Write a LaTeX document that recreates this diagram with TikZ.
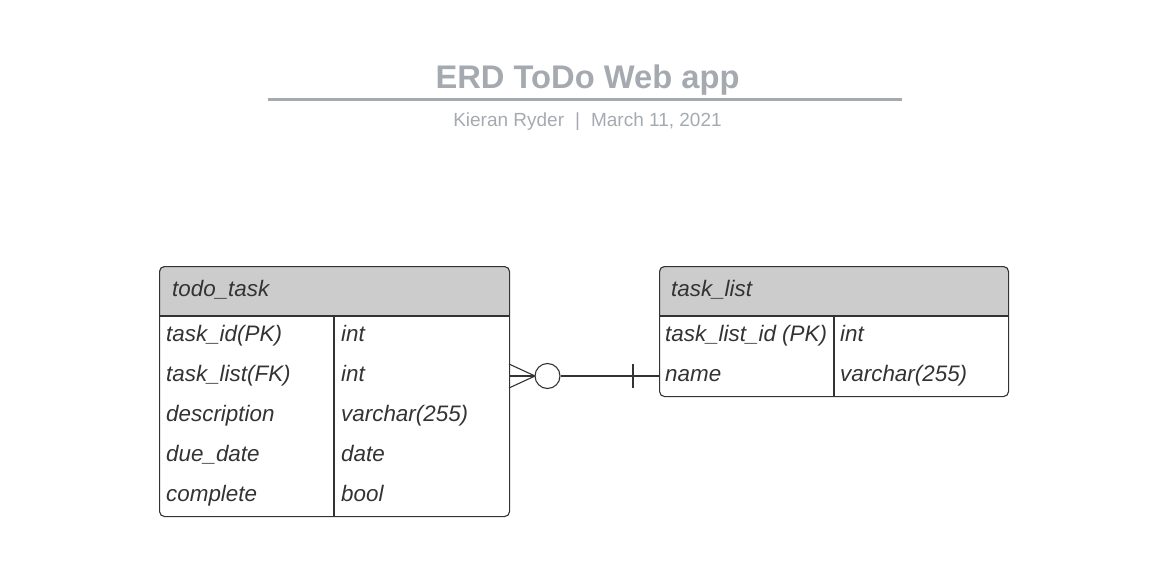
\documentclass[tikz,border=0pt]{standalone}
\usepackage{fontspec}
\setmainfont{Liberation Sans}
\definecolor{ttl}{HTML}{A5AAB1}
\definecolor{ink}{HTML}{333333}
\definecolor{hdr}{HTML}{CCCCCC}
\tikzset{
  cell/.style={anchor=west,inner sep=0pt,text height=16pt,text depth=5pt,font=\fontsize{22.4}{25}\selectfont\itshape,text=ink},
  tbl/.style={draw=ink,line width=1.1pt,rounded corners=5pt},
  sep/.style={draw=ink,line width=1.1pt},
  rel/.style={draw=ink,line width=1.1pt}
}
\begin{document}
\begin{tikzpicture}[x=1pt,y=-1pt]
\useasboundingbox (0,0) rectangle (1164,564);
% title
\node[font=\fontsize{32.7}{36}\selectfont\bfseries,text=ttl,inner sep=0pt,anchor=base] (title) at (587.5,88.5) {ERD ToDo Web app};
\coordinate (tl) at (268,100);
\coordinate (tr) at (902,100);
\draw[ttl,line width=3pt] (tl) -- (tr);
\node[font=\fontsize{19}{22}\selectfont,text=ttl,inner sep=0pt,anchor=base] (sub) at (587.5,126.5) {Kieran Ryder\hspace{11pt}|\hspace{11pt}March 11, 2021};

% todo_task table
\fill[hdr] (159,316) [rounded corners=5pt] -- (159,266) -- (509,266) [sharp corners] -- (509,316) -- cycle;
\node[tbl,minimum width=350pt,minimum height=250pt,anchor=north west,inner sep=0pt] (tt) at (159,266) {};
\draw[sep] (159,316) -- (509,316);
\draw[sep] (334,316) -- (334,516);
\node[cell] (tth) at (172,290.5) {todo\_task};
\node[cell] (a1) at (166,335.5) {task\_id(PK)};
\node[cell] (a2) at (166,375.5) {task\_list(FK)};
\node[cell] (a3) at (166,415.5) {description};
\node[cell] (a4) at (166,455.5) {due\_date};
\node[cell] (a5) at (166,495.5) {complete};
\node[cell] (b1) at (341,335.5) {int};
\node[cell] (b2) at (341,375.5) {int};
\node[cell] (b3) at (341,415.5) {varchar(255)};
\node[cell] (b4) at (341,455.5) {date};
\node[cell] (b5) at (341,495.5) {bool};

% task_list table
\fill[hdr] (659,316) [rounded corners=5pt] -- (659,266) -- (1008,266) [sharp corners] -- (1008,316) -- cycle;
\node[tbl,minimum width=349pt,minimum height=130pt,anchor=north west,inner sep=0pt] (tk) at (659,266) {};
\draw[sep] (659,316) -- (1008,316);
\draw[sep] (834,316) -- (834,396);
\node[cell] (tkh) at (671,290.5) {task\_list};
\node[cell] (c1) at (665,335.5) {task\_list\_id (PK)};
\node[cell] (c2) at (665,375.5) {name};
\node[cell] (d1) at (840,335.5) {int};
\node[cell] (d2) at (840,375.5) {varchar(255)};

% relationship
\coordinate (p) at (509,376);
\coordinate (q) at (659,376);
\coordinate (tip) at ([xshift=26pt]p);
\node[draw=ink,line width=1.1pt,circle,minimum size=25pt,inner sep=0pt] (o) at ([xshift=38.5pt]p) {};
\draw[rel] ([yshift=-12pt]p) -- (tip) -- ([yshift=12pt]p);
\draw[rel] (p) -- (o.west);
\draw[rel] (o.east) -- (q);
\draw[rel] ([xshift=-26pt,yshift=-12pt]q) -- ([xshift=-26pt,yshift=12pt]q);
\end{tikzpicture}
\end{document}
